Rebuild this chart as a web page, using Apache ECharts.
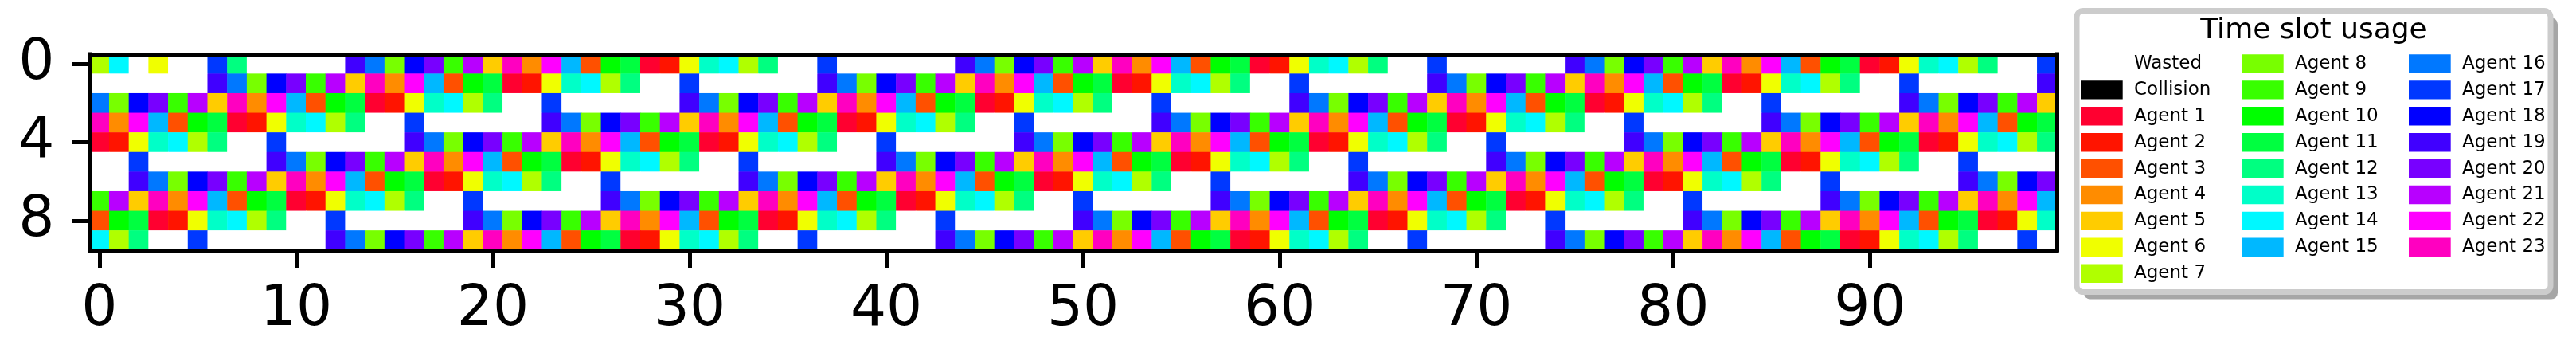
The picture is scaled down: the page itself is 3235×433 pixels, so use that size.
<!DOCTYPE html>
<html>
<head>
<meta charset="utf-8">
<script src="https://cdn.jsdelivr.net/npm/echarts@6/dist/echarts.min.js"></script>
<style>
html,body{margin:0;padding:0;background:#fff;}
#chart{width:3235px;height:433px;}
</style>
</head>
<body>
<div id="chart"></div>
<script>
// ---- DATA (0 = Wasted, -1 = Collision, n = Agent n) ----
var row0 = [7,14,0,6,0,0,17,12,0,0,0,0,0,19,16,8,18,20,9,21,5,23,4,22,15,3,10,11,1,2,6,
  13,14,7,12,0,0,17,0,0,0,0,0,0,19,16,8,18,20,9,21,5,23,4,22,15,3,10,11,1,2,6,
  13,14,7,12,0,0,17,0,0,0,0,0,0,19,16,8,18,20,9,21,5,23,4,22,15,3,10,11,1,2,6,
  13,14,7,12,0,0,17];
var row1 = [0,0,0,0,0,0,19,16,8,18,20,9,21,5,23,4,22,15,3,10,11,1,2,6,13,14,7,12,0,0,17,
  0,0,0,0,0,0,19,16,8,18,20,9,21,5,23,4,22,15,3,10,11,1,2,6,13,14,7,12,0,0,17,
  0,0,0,0,0,0,19,16,8,18,20,9,21,5,23,4,22,15,3,10,11,1,2,6,13,14,7,12,0,0,17,
  0,0,0,0,0,0,19];
var row2 = [16,8,18,20,9,21,5,23,4,22,15,3,10,11,1,2,6,13,14,7,12,0,0,17,0,0,0,0,0,0,19,
  16,8,18,20,9,21,5,23,4,22,15,3,10,11,1,2,6,13,14,7,12,0,0,17,0,0,0,0,0,0,19,
  16,8,18,20,9,21,5,23,4,22,15,3,10,11,1,2,6,13,14,7,12,0,0,17,0,0,0,0,0,0,19,
  16,8,18,20,9,21,5];
var row3 = [23,4,22,15,3,10,11,1,2,6,13,14,7,12,0,0,17,0,0,0,0,0,0,19,16,8,18,20,9,21,5,
  23,4,22,15,3,10,11,1,2,6,13,14,7,12,0,0,17,0,0,0,0,0,0,19,16,8,18,20,9,21,5,
  23,4,22,15,3,10,11,1,2,6,13,14,7,12,0,0,17,0,0,0,0,0,0,19,16,8,18,20,9,21,5,
  23,4,22,15,3,10,11];
var row4 = [1,2,6,13,14,7,12,0,0,17,0,0,0,0,0,0,19,16,8,18,20,9,21,5,23,4,22,15,3,10,11,
  1,2,6,13,14,7,12,0,0,17,0,0,0,0,0,0,19,16,8,18,20,9,21,5,23,4,22,15,3,10,11,
  1,2,6,13,14,7,12,0,0,17,0,0,0,0,0,0,19,16,8,18,20,9,21,5,23,4,22,15,3,10,11,
  1,2,6,13,14,7,12];
var row5 = [0,0,17,0,0,0,0,0,0,19,16,8,18,20,9,21,5,23,4,22,15,3,10,11,1,2,6,13,14,7,12,
  0,0,17,0,0,0,0,0,0,19,16,8,18,20,9,21,5,23,4,22,15,3,10,11,1,2,6,13,14,7,12,
  0,0,17,0,0,0,0,0,0,19,16,8,18,20,9,21,5,23,4,22,15,3,10,11,1,2,6,13,14,7,12,
  0,0,17,0,0,0,0];
var row6 = [0,0,19,16,8,18,20,9,21,5,23,4,22,15,3,10,11,1,2,6,13,14,7,12,0,0,17,0,0,0,0,
  0,0,19,16,8,18,20,9,21,5,23,4,22,15,3,10,11,1,2,6,13,14,7,12,0,0,17,0,0,0,0,
  0,0,19,16,8,18,20,9,21,5,23,4,22,15,3,10,11,1,2,6,13,14,7,12,0,0,17,0,0,0,0,
  0,0,19,16,8,18,20];
var row7 = [9,21,5,23,4,22,15,3,10,11,1,2,6,13,14,7,12,0,0,17,0,0,0,0,0,0,19,16,8,18,20,
  9,21,5,23,4,22,15,3,10,11,1,2,6,13,14,7,12,0,0,17,0,0,0,0,0,0,19,16,8,18,20,
  9,21,5,23,4,22,15,3,10,11,1,2,6,13,14,7,12,0,0,17,0,0,0,0,0,0,19,16,8,18,20,
  9,21,5,23,4,22,15];
var row8 = [3,10,11,1,2,6,13,14,7,12,0,0,17,0,0,0,0,0,0,19,16,8,18,20,9,21,5,23,4,22,15,
  3,10,11,1,2,6,13,14,7,12,0,0,17,0,0,0,0,0,0,19,16,8,18,20,9,21,5,23,4,22,15,
  3,10,11,1,2,6,13,14,7,12,0,0,17,0,0,0,0,0,0,19,16,8,18,20,9,21,5,23,4,22,15,
  3,10,11,1,2,6,13];
var row9 = [14,7,12,0,0,17,0,0,0,0,0,0,19,16,8,18,20,9,21,5,23,4,22,15,3,10,11,1,2,6,13,
  14,7,12,0,0,17,0,0,0,0,0,0,19,16,8,18,20,9,21,5,23,4,22,15,3,10,11,1,2,6,13,
  14,7,12,0,0,17,0,0,0,0,0,0,19,16,8,18,20,9,21,5,23,4,22,15,3,10,11,1,2,6,13,
  14,7,12,0,0,17,0];
var rows = [row0,row1,row2,row3,row4,row5,row6,row7,row8,row9];

var legendTitle = 'Time slot usage';
var legendNames = ['Wasted','Collision','Agent 1','Agent 2','Agent 3','Agent 4','Agent 5','Agent 6','Agent 7',
  'Agent 8','Agent 9','Agent 10','Agent 11','Agent 12','Agent 13','Agent 14','Agent 15',
  'Agent 16','Agent 17','Agent 18','Agent 19','Agent 20','Agent 21','Agent 22','Agent 23'];
var legendValues = [0,-1,1,2,3,4,5,6,7,8,9,10,11,12,13,14,15,16,17,18,19,20,21,22,23];
var wastedColor = '#ffffff';
var collisionColor = '#000000';
var agentColors = ['#ff0030','#ff1400','#ff5000','#ff8c00','#ffcc00','#f0ff00','#b0ff00',
  '#78ff00','#38ff00','#00ff00','#00ff40','#00ff80','#00ffc8','#00f8ff','#00b8ff',
  '#0078ff','#0038ff','#0000ff','#4000ff','#7800ff','#b800ff','#ff00ff','#ff00c0'];
var xTickEvery = 10;
var yTickEvery = 4;

// ---- BUILD ----
var nCols = rows[0].length, nRows = rows.length;
var xCats = [], yCats = [];
for (var i = 0; i < nCols; i++) xCats.push(String(i));
for (var j = 0; j < nRows; j++) yCats.push(String(j));
var data = [];
rows.forEach(function (r, ri) { r.forEach(function (v, ci) { data.push([ci, ri, v]); }); });

var colorOf = {};
colorOf[0] = wastedColor; colorOf[-1] = collisionColor;
agentColors.forEach(function (c, k) { colorOf[k + 1] = c; });
var pieces = legendValues.map(function (v) { return { value: v, color: colorOf[v] }; });

var FONT = 'DejaVu Sans';
var G = { left: 112.5, top: 68, width: 2470.5, height: 246 };
var frameStyle = { color: '#000', width: 5, cap: 'square' };

var axisCommon = { z: 10, splitLine: { show: false }, axisLine: { show: true, lineStyle: frameStyle } };

// legend graphic
var L = { x: 2608, y: 13.5, w: 595, h: 353, shadow: 9 };
var graphics = [];
graphics.push({ type: 'rect', z: 1, shape: { x: L.x + L.shadow, y: L.y + L.shadow, width: L.w, height: L.h, r: 8 }, style: { fill: '#a6a6a6' } });
graphics.push({ type: 'rect', z: 2, shape: { x: L.x, y: L.y, width: L.w, height: L.h, r: 8 }, style: { fill: '#ffffff', stroke: '#cccccc', lineWidth: 7 } });
graphics.push({ type: 'text', z: 3, style: { x: L.x + L.w / 2, y: 39, text: legendTitle, font: '36px "DejaVu Sans"', fill: '#000', textAlign: 'center', textVerticalAlign: 'middle' } });
var colX = [2613, 2815, 3025];
var colCounts = [9, 8, 8];
var rowY0 = 80, rowDy = 32.9;
var idx = 0;
for (var c = 0; c < 3; c++) {
  for (var k = 0; k < colCounts[c]; k++) {
    var cy = rowY0 + k * rowDy;
    graphics.push({ type: 'rect', z: 3, shape: { x: colX[c], y: cy - 11.7, width: 52.7, height: 23.4 }, style: { fill: colorOf[legendValues[idx]] } });
    graphics.push({ type: 'text', z: 3, style: { x: colX[c] + 67, y: cy, text: legendNames[idx], font: '23px "DejaVu Sans"', fill: '#000', textAlign: 'left', textVerticalAlign: 'middle' } });
    idx++;
  }
}

var option = {
  backgroundColor: '#ffffff',
  animation: false,
  grid: { left: G.left, top: G.top, width: G.width, height: G.height, containLabel: false },
  xAxis: [
    Object.assign({}, axisCommon, {
      type: 'category', data: xCats, position: 'bottom',
      axisTick: { show: true, alignWithLabel: true, interval: xTickEvery - 1, length: 22, lineStyle: { color: '#000', width: 5 } },
      axisLabel: { interval: xTickEvery - 1, fontSize: 71, fontFamily: FONT, color: '#000', margin: 40 }
    }),
    Object.assign({}, axisCommon, {
      type: 'category', data: xCats, position: 'top',
      axisTick: { show: false }, axisLabel: { show: false }
    })
  ],
  yAxis: [
    Object.assign({}, axisCommon, {
      type: 'category', data: yCats, inverse: true, position: 'left',
      axisTick: { show: true, alignWithLabel: true, interval: yTickEvery - 1, length: 22, lineStyle: { color: '#000', width: 5 } },
      axisLabel: { interval: yTickEvery - 1, fontSize: 71, fontFamily: FONT, color: '#000', margin: 44 }
    }),
    Object.assign({}, axisCommon, {
      type: 'category', data: yCats, inverse: true, position: 'right',
      axisTick: { show: false }, axisLabel: { show: false }
    })
  ],
  visualMap: { type: 'piecewise', show: false, dimension: 2, seriesIndex: 0, pieces: pieces },
  series: [{
    type: 'heatmap', xAxisIndex: 0, yAxisIndex: 0, data: data,
    itemStyle: { borderWidth: 0 },
    emphasis: { disabled: true },
    progressive: 0
  }],
  graphic: graphics
};

var chart = echarts.init(document.getElementById('chart'), null, { renderer: 'canvas' });
chart.setOption(option);
</script>
</body>
</html>
